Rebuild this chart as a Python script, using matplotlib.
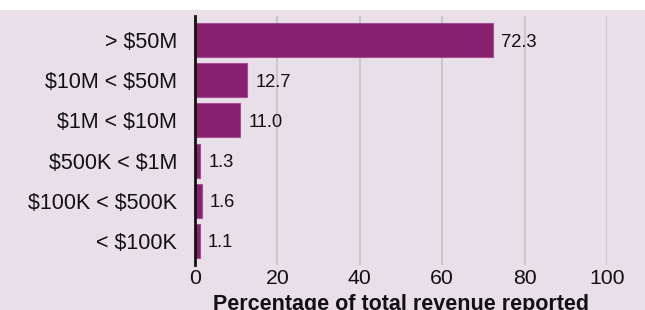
import matplotlib
matplotlib.use("Agg")
import matplotlib.pyplot as plt
from matplotlib.patches import Rectangle

# Revenue bands, top to bottom as shown
categories = ["> $50M", "$10M < $50M", "$1M < $10M", "$500K < $1M", "$100K < $500K", "< $100K"]
values = [72.3, 12.7, 11.0, 1.3, 1.6, 1.1]
xticks = [0, 20, 40, 60, 80, 100]

bg = "#e9dfe9"
bar_color = "#87206f"
edge_color = "#a64c95"

plt.rcParams['font.family'] = ['Liberation Sans', 'DejaVu Sans']
plt.rcParams['text.parse_math'] = False  # dollar signs are literal

fig = plt.figure(figsize=(6.45, 3.1), dpi=100)
fig.patch.set_facecolor("white")
# lavender panel below the thin white strip at the top
fig.patches.append(Rectangle((0, 0), 1, 300 / 310, transform=fig.transFigure,
                             facecolor=bg, edgecolor="none", zorder=-10))

ax = fig.add_axes([195 / 645, 45 / 310, 412 / 645, 249 / 310])
ax.set_zorder(1)
ax.set_facecolor(bg)

pos = list(range(len(categories)))
ax.barh(pos, values, height=0.85, color=bar_color, edgecolor=edge_color, linewidth=0.8, zorder=3)

# value labels just right of each bar
for p, v in zip(pos, values):
    ax.annotate(f"{v:.1f}", (v, p), xytext=(6, -1.5), textcoords="offset points",
                va="center", ha="left", fontsize=13.2, color="#111111")

ax.set_xlim(0, 100)
ax.set_ylim(len(categories) - 0.4, -0.6)
ax.set_xticks(xticks)
ax.set_xticklabels([str(t) for t in xticks], fontsize=15.3, color="#111111")
ax.set_yticks(pos)
ax.set_yticklabels(categories, fontsize=15.5, color="#111111")
ax.tick_params(axis="both", length=0)
ax.tick_params(axis="x", pad=3)
ax.tick_params(axis="y", pad=13)

ax.grid(axis="x", color="#c2c2c2", linewidth=1.2, zorder=1)
ax.grid(axis="y", visible=False)
for side in ["top", "right", "bottom"]:
    ax.spines[side].set_visible(False)
ax.spines["left"].set_color("#111111")
ax.spines["left"].set_linewidth(2)
ax.spines["left"].set_zorder(4)

ax.set_xlabel("Percentage of total revenue reported", fontsize=15.5, fontweight="bold",
              color="#111111", labelpad=4)

fig.savefig("out.png", dpi=100, facecolor=fig.get_facecolor())
